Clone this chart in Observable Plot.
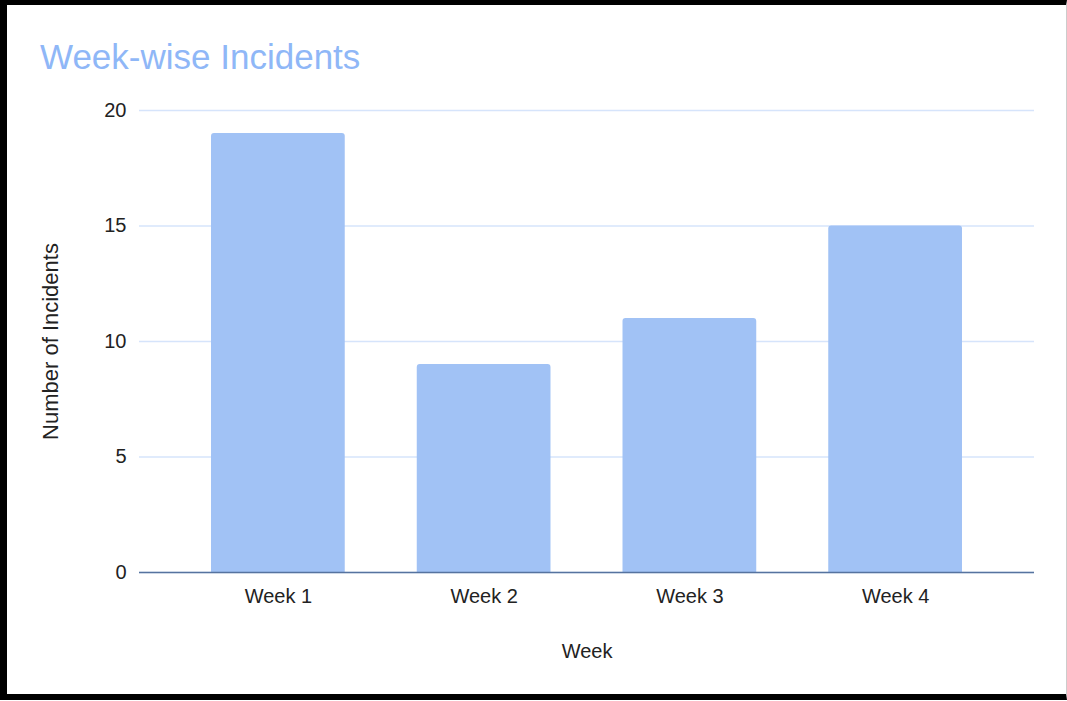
<!DOCTYPE html>
<html>
<head>
<meta charset="utf-8">
<script src="https://cdn.jsdelivr.net/npm/d3@7"></script>
<script src="https://cdn.jsdelivr.net/npm/@observablehq/plot@0.6"></script>
<style>
  html, body { margin: 0; padding: 0; background: #fff; }
  #wrap { position: relative; width: 1067px; height: 701px; overflow: hidden; }
  #frame { position: absolute; left: 0; top: 0; width: 1067px; height: 700px; box-sizing: border-box;
           border-left: 7px solid #000; border-top: 5px solid #000; border-bottom: 6px solid #000; border-right: 1px solid #ccc; }
  #title { position: absolute; left: 40px; top: 37px; font-family: "Liberation Sans", Arial, sans-serif;
           font-size: 35px; color: #8fb7f7; line-height: 40px; white-space: nowrap; }
  #chart { position: absolute; left: 0; top: 0; }
</style>
</head>
<body>
<div id="wrap">
  <div id="frame"></div>
  <div id="title">Week-wise Incidents</div>
  <div id="chart"></div>
</div>
<script>
const weeks = ["Week 1", "Week 2", "Week 3", "Week 4"];
const incidents = [19, 9, 11, 15];
const yTicks = [0, 5, 10, 15, 20];
const xTitle = "Week";
const yTitle = "Number of Incidents";

const data = weeks.map((w, i) => ({week: w, count: incidents[i]}));

const chart = Plot.plot({
  width: 1067,
  height: 701,
  marginLeft: 139,
  marginRight: 33,
  marginTop: 110,
  marginBottom: 129,
  style: {background: "transparent", fontFamily: "'Liberation Sans', Arial, sans-serif", fontSize: "20px", color: "#222"},
  x: {domain: weeks, paddingInner: 0.35, paddingOuter: 0.35, round: false},
  y: {domain: [0, 20], labelArrow: false},
  marks: [
    Plot.gridY(yTicks, {stroke: "#d6e4fb", strokeOpacity: 1, strokeWidth: 1.5}),
    Plot.barY(data, {x: "week", y: "count", fill: "#a1c2f5", rx: 3, insetBottom: -4, clip: true}),
    Plot.ruleY([0], {stroke: "#56739f", strokeWidth: 1.5}),
    Plot.axisY(yTicks, {tickSize: 0, tickPadding: 13, fontSize: 20, fill: "#222", label: null}),
    Plot.axisY({ticks: [], tickSize: 0, fontSize: 22, fill: "#222", dy: 10,
      label: yTitle, labelAnchor: "center", labelOffset: 97, labelArrow: false}),
    Plot.axisX({tickSize: 0, tickPadding: 16, fontSize: 20, fill: "#222",
      label: xTitle, labelAnchor: "center", labelOffset: 85, labelArrow: false})
  ]
});
document.getElementById("chart").appendChild(chart);
</script>
</body>
</html>
